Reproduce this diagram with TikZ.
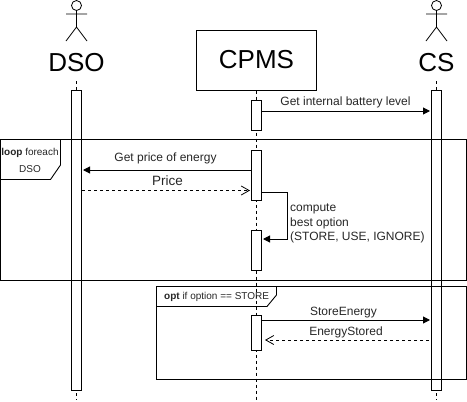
\documentclass[tikz,border=0pt]{standalone}
\usepackage{fontspec}
\setmainfont{Liberation Sans}
\usetikzlibrary{arrows.meta, positioning, calc}

\tikzset{
  bar/.style={draw=black, fill=white, minimum width=10pt, inner sep=0pt, line width=1pt},
  lifeline/.style={line width=1pt, dash pattern=on 3pt off 3pt},
  msg/.style={line width=1pt, -{Triangle[length=7pt,width=7pt]}},
  reply/.style={line width=0.8pt, dash pattern=on 3pt off 3pt, -{Straight Barb[length=8pt,width=9pt]}},
  lbl/.style={font=\fontsize{12}{14.5}\selectfont, inner sep=0pt, text=black!85},
  frametab/.style={font=\fontsize{10}{12}\selectfont, inner sep=0pt, text=black!85},
  actor/.pic={
    \draw[line width=0.8pt] (0,5.5) circle (5);
    \draw[line width=0.8pt] (0,10.5) -- (0,27) (-10.5,14) -- (10.5,14) (-10.5,41) -- (0,27) -- (10.5,41);
  }
}

\begin{document}
\begin{tikzpicture}[x=1pt, y=-1pt]
      \useasboundingbox (0,0) rectangle (467,402);

      \pic at (76.5,0) {actor};
      \pic at (436.5,0) {actor};

      \node[font=\fontsize{26}{28}\selectfont, inner sep=0pt] (dso) at (76.5,63) {DSO};
      \node[font=\fontsize{26}{28}\selectfont, inner sep=0pt] (cs) at (436.5,63) {CS};
      \node[draw, line width=1pt, minimum width=120pt, minimum height=60pt, inner sep=0pt, font=\fontsize{26}{28}\selectfont] (cpms) at (256.5,60) {CPMS};

      % lifelines
      \coordinate (dsoEnd) at (76.5,400);
      \coordinate (cpmsEnd) at (256.5,400);
      \coordinate (csEnd) at (436.5,400);
      \draw[lifeline] (76.5,81) -- (dsoEnd);
      \draw[lifeline] (cpms.south) -- (cpmsEnd);
      \draw[lifeline] (436.5,81) -- (csEnd);

      % activation bars
      \node[bar, minimum height=300pt] (dsoBar) at (76.5,240) {};
      \node[bar, minimum height=300pt] (csBar) at (436.5,240) {};
      \node[bar, minimum height=30pt] (cpmsA) at (256.5,115) {};
      \node[bar, minimum height=50pt] (cpmsB) at (256.5,175) {};
      \node[bar, minimum height=40pt] (cpmsC) at (256.5,250) {};
      \node[bar, minimum height=35pt] (cpmsD) at (256.5,332.5) {};

      % loop frame
      \coordinate (loopTL) at (0.5,139.5);
      \coordinate (loopBR) at (466.5,280);
      \draw[line width=0.9pt] (loopTL) rectangle (loopBR);
      \draw[line width=0.9pt] (60.5,139.5) -- (60.5,165) -- (50.5,179.5) -- (0.5,179.5);
      \node[frametab] (loopTag) at (30,153) {\textbf{loop} foreach};
      \node[frametab] (loopVar) at (30,169.5) {DSO};

      % opt frame
      \coordinate (optTL) at (156.5,286.5);
      \coordinate (optBR) at (466.5,379);
      \draw[line width=0.9pt] (optTL) rectangle (optBR);
      \draw[line width=0.9pt] (276.5,286.5) -- (276.5,295) -- (267,306.5) -- (156.5,306.5);
      \node[frametab, anchor=west] (optTag) at (164,296.5) {\textbf{opt} if option == STORE};

      % messages
      \draw[msg] ([yshift=4pt]cpmsA.east) -- ([yshift=4pt,xshift=-1pt]cpmsA.east -| csBar.west);
      \node[lbl] (battery) at (345.5,102.5) {Get internal battery level};

      \draw[msg] ([yshift=5pt]cpmsB.west) -- ([yshift=5pt,xshift=1pt]cpmsB.west -| dsoBar.east);
      \node[lbl] (getPrice) at (165.5,158.5) {Get price of energy};

      \draw[reply] ([yshift=-15.5pt]dsoBar.east |- cpmsB.west) -- ([yshift=-15.5pt,xshift=-1pt]cpmsB.west);
      \node[lbl, font=\fontsize{13.5}{16}\selectfont] (price) at (167.5,180.5) {Price};

      \draw[msg] ([yshift=-17pt]cpmsB.east) -- ++(25,0) |- ([yshift=11pt,xshift=1pt]cpmsC.east);
      \node[lbl, align=left, anchor=west] (compute) at (290,223.5) {compute\\best option\\(STORE, USE, IGNORE)};

      \draw[msg] ([yshift=12.5pt]cpmsD.east) -- ([yshift=12.5pt,xshift=-1pt]cpmsD.east -| csBar.west);
      \node[lbl] (storeEnergy) at (343.5,312.5) {StoreEnergy};

      \draw[reply] ([yshift=-7.5pt,xshift=-2pt]cpmsD.east -| csBar.west) -- ([yshift=-7.5pt,xshift=3pt]cpmsD.east);
      \node[lbl] (energyStored) at (346,332.5) {EnergyStored};
\end{tikzpicture}
\end{document}
